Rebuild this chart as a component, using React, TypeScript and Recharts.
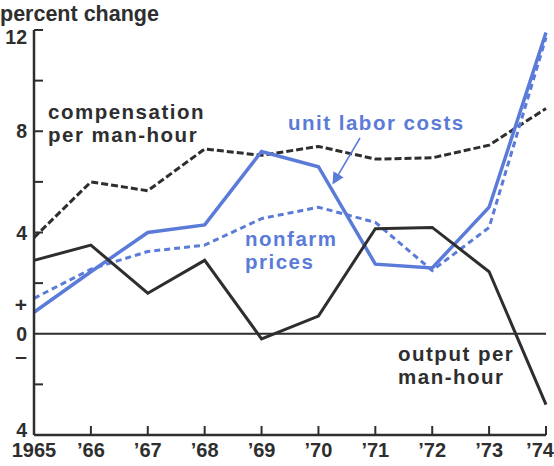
import { LineChart, Line, XAxis, YAxis, ReferenceLine } from 'recharts';

const years = [1965, 1966, 1967, 1968, 1969, 1970, 1971, 1972, 1973, 1974];
const yearLabels = ['1965', '’66', '’67', '’68', '’69', '’70', '’71', '’72', '’73', '’74'];
const outputPerHour = [2.9, 3.5, 1.6, 2.9, -0.2, 0.7, 4.15, 4.2, 2.45, -2.8];
const compensation = [3.8, 6.0, 5.65, 7.3, 7.05, 7.4, 6.9, 6.95, 7.45, 8.9];
const unitLaborCosts = [0.85, 2.45, 4.0, 4.3, 7.2, 6.6, 2.75, 2.6, 5.0, 11.9];
const nonfarmPrices = [1.4, 2.55, 3.25, 3.5, 4.55, 5.0, 4.4, 2.5, 4.2, 11.7];
const yTicks = [-4, -2, 0, 2, 4, 6, 8, 10, 12];

const data = years.map((year, i) => ({
  year,
  output: outputPerHour[i],
  comp: compensation[i],
  ulc: unitLaborCosts[i],
  prices: nonfarmPrices[i],
}));

const INK = '#2e2e2e';
const BLUE = '#5b7bd8';
const FONT = '"Liberation Sans", Arial, Helvetica, sans-serif';
const LABEL = { fontFamily: FONT, fontWeight: 'bold' as const, fontSize: 20.5, letterSpacing: 1.5 };

function YTick(props: any) {
  const { x, y, payload } = props;
  const v = payload.value as number;
  const major = v % 4 === 0;
  // top and bottom labels sit inside the axis ends
  const dy = v === 12 ? 14 : v === -4 ? 2 : 7;
  return (
    <g>
      {v !== 0 && v !== -4 && <line x1={x} x2={x + 9} y1={y} y2={y} stroke={INK} strokeWidth={2} />}
      {major && (
        <text x={x - 7} y={y + dy} textAnchor="end" fontFamily={FONT} fontWeight="bold" fontSize={19.5} fill={INK}>
          {Math.abs(v)}
        </text>
      )}
    </g>
  );
}

function XTick(props: any) {
  const { x, y, payload, index } = props;
  const last = index === years.length - 1;
  return (
    <g>
      {index > 0 && <line x1={x} x2={x} y1={y} y2={y - 9} stroke={INK} strokeWidth={2} />}
      <text x={last ? x - 6 : x} y={y + 22} textAnchor="middle" fontFamily={FONT} fontWeight="bold" fontSize={20} fill={INK}>
        {yearLabels[years.indexOf(payload.value)]}
      </text>
    </g>
  );
}

function TwoLine({ x, y, lines, fill }: { x: number; y: number; lines: string[]; fill: string }) {
  return (
    <text x={x} y={y} fill={fill} {...LABEL}>
      <tspan x={x} dy={0}>{lines[0]}</tspan>
      <tspan x={x} dy={23}>{lines[1]}</tspan>
    </text>
  );
}

export default function App() {
  return (
    <div style={{ position: 'absolute', left: 0, top: 0, width: 554, height: 466, background: '#fff' }}>
      <LineChart width={554} height={466} data={data} margin={{ top: 30, right: 8, left: 0, bottom: 0 }}>
        <XAxis
          dataKey="year"
          type="number"
          domain={[1965, 1974]}
          ticks={years}
          height={31}
          tickSize={0}
          tickMargin={0}
          tickLine={false}
          tick={<XTick />}
          axisLine={{ stroke: INK, strokeWidth: 2.5 }}
          interval={0}
        />
        <YAxis
          type="number"
          domain={[-4, 12]}
          ticks={yTicks}
          width={34}
          tickSize={0}
          tickMargin={0}
          tickLine={false}
          tick={<YTick />}
          axisLine={{ stroke: INK, strokeWidth: 2.5 }}
          interval={0}
        />
        <ReferenceLine y={0} stroke={INK} strokeWidth={1.8} />
        <Line dataKey="comp" stroke={INK} strokeWidth={3} strokeDasharray="7 3" dot={false} isAnimationActive={false} />
        <Line dataKey="prices" stroke={BLUE} strokeWidth={3} strokeDasharray="6 4" dot={false} isAnimationActive={false} />
        <Line dataKey="ulc" stroke={BLUE} strokeWidth={3.5} dot={false} isAnimationActive={false} />
        <Line dataKey="output" stroke={INK} strokeWidth={3} dot={false} isAnimationActive={false} />
      </LineChart>
      <svg width={554} height={466} style={{ position: 'absolute', left: 0, top: 0, pointerEvents: 'none' }}>
        <defs>
          <marker id="arrowHead" markerWidth="8" markerHeight="8" refX="6" refY="4" orient="auto">
            <path d="M0,0 L8,4 L0,8 Z" fill={BLUE} />
          </marker>
        </defs>
        <text x={0} y={21} fontSize={21.5} fill={INK} fontFamily={FONT} fontWeight="bold">percent change</text>
        <TwoLine x={48} y={119} lines={['compensation', 'per man-hour']} fill={INK} />
        <text x={288} y={130} fill={BLUE} {...LABEL}>unit labor costs</text>
        <line x1={360} y1={138} x2={334} y2={182} stroke={BLUE} strokeWidth={1.5} markerEnd="url(#arrowHead)" />
        <TwoLine x={245} y={246} lines={['nonfarm', 'prices']} fill={BLUE} />
        <TwoLine x={398} y={361} lines={['output per', 'man-hour']} fill={INK} />
        <text x={21} y={312} textAnchor="middle" fontSize={21} fill={INK} fontFamily={FONT} fontWeight="bold">+</text>
        <text x={21} y={363} textAnchor="middle" fontSize={21} fill={INK} fontFamily={FONT} fontWeight="bold">–</text>
      </svg>
    </div>
  );
}
